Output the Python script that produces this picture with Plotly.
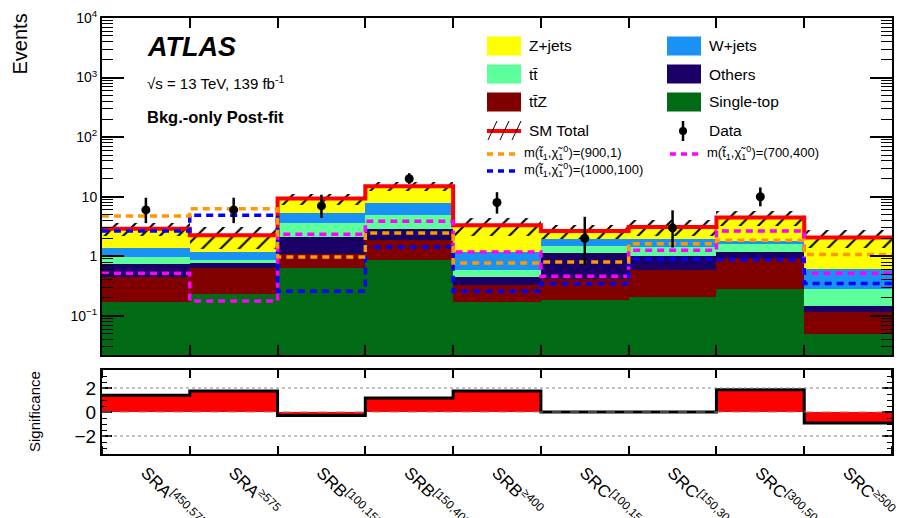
import numpy as np
import plotly.graph_objects as go

# ---------------- data ----------------
regions = ["SRA<sup>[450,575)</sup>", "SRA<sup>≥575</sup>", "SRB<sup>[100,150)</sup>",
           "SRB<sup>[150,400)</sup>", "SRB<sup>≥400</sup>", "SRC<sup>[100,150)</sup>",
           "SRC<sup>[150,300)</sup>", "SRC<sup>[300,500)</sup>", "SRC<sup>≥500</sup>"]

single_top = [0.171, 0.23, 0.646, 0.88, 0.171, 0.187, 0.207, 0.286, 0.048]
ttz        = [0.269, 0.416, 0.43, 1.03, 0.155, 0.235, 0.39, 0.66, 0.068]
others     = [0.313, 0.125, 1.03, 0.93, 0.123, 0.69, 0.40, 0.23, 0.028]
ttbar      = [0.217, 0.086, 1.52, 2.05, 0.13, 0.36, 0.43, 0.49, 0.142]
wjets      = [0.38, 0.32, 1.79, 2.8, 0.6, 0.51, 0.55, 0.12, 0.314]
zjets      = [1.55, 1.07, 3.9, 7.3, 2.14, 0.68, 1.13, 2.68, 1.46]
bkg_unc    = [0.7, 0.9, 2.0, 2.5, 1.1, 0.7, 0.9, 1.3, 0.7]

data        = [6, 6, 7, 20, 8, 2, 3, 10, 0]
data_err_up = [3.6, 3.6, 3.8, 4.8, 3.9, 2.6, 2.9, 4.3, 1.8]
data_err_dn = [2.4, 2.4, 2.6, 3.6, 2.8, 1.3, 1.6, 3.1, 0.0]

sig_900_1    = [4.75, 6.3, 0.97, 2.46, 0.77, 0.8, 1.63, 1.86, 1.07]
sig_1000_100 = [2.66, 4.9, 0.258, 1.43, 0.258, 0.35, 0.90, 0.88, 0.35]
sig_700_400  = [0.52, 0.177, 2.34, 3.87, 1.18, 0.46, 1.26, 2.66, 0.52]

significance = [1.4, 1.74, -0.3, 1.16, 1.74, 0.0, 0.0, 1.85, -0.91]

# ---------------- styling ----------------
FONT = "Liberation Sans, Arial, Helvetica, sans-serif"
C_ZJ, C_WJ, C_TT = "#ffff00", "#1991f5", "#5cff99"
C_OT, C_TTZ, C_ST = "#1a0066", "#800000", "#006b14"
C_OR, C_BL, C_MA = "#ff9900", "#0000ff", "#ff00ff"

nb = len(regions)
centers = np.arange(nb) + 0.5
edges = np.arange(nb + 1)

stack = [("Single-top", single_top, C_ST), ("ttZ", ttz, C_TTZ), ("Others", others, C_OT),
         ("ttbar", ttbar, C_TT), ("W+jets", wjets, C_WJ), ("Z+jets", zjets, C_ZJ)]

fig = go.Figure()
base = np.full(nb, 1e-3)
for name, vals, col in stack:
    v = np.array(vals, float)
    fig.add_trace(go.Bar(x=centers, y=v, base=base.copy(), width=1.0, marker_color=col,
                         marker_line_width=0, name=name, showlegend=False,
                         xaxis="x", yaxis="y"))
    base = base + v

total = np.sum([np.array(s[1]) for s in stack], axis=0)
unc = np.array(bkg_unc)

# hatched uncertainty band
fig.add_trace(go.Bar(x=centers, y=2 * unc, base=total - unc, width=1.0,
                     marker=dict(color="rgba(255,255,255,0)", line_width=0,
                                 pattern=dict(shape="/", fgcolor="black", fgopacity=1,
                                              fillmode="overlay", size=13, solidity=0.16)),
                     showlegend=False, xaxis="x", yaxis="y"))

def step(vals):
    return list(vals) + [vals[-1]]

fig.add_trace(go.Scatter(x=edges, y=step(total), mode="lines", line_shape="hv",
                         line=dict(color="#ff0000", width=4), showlegend=False,
                         xaxis="x", yaxis="y"))

for vals, col in [(sig_700_400, C_MA), (sig_1000_100, C_BL), (sig_900_1, C_OR)]:
    fig.add_trace(go.Scatter(x=edges, y=step(vals), mode="lines", line_shape="hv",
                             line=dict(color=col, width=3.5, dash="7px,5px"),
                             showlegend=False, xaxis="x", yaxis="y"))

d = np.array(data, float)
mask = d > 0
fig.add_trace(go.Scatter(x=centers[mask], y=d[mask], mode="markers",
                         marker=dict(color="black", size=9),
                         error_y=dict(type="data", symmetric=False,
                                      array=np.array(data_err_up)[mask],
                                      arrayminus=np.array(data_err_dn)[mask],
                                      color="black", thickness=2.5, width=0),
                         showlegend=False, xaxis="x", yaxis="y"))

# significance panel
fig.add_trace(go.Bar(x=centers, y=significance, width=1.0, marker_color="#ff0000",
                     marker_line_width=0, showlegend=False, xaxis="x2", yaxis="y2"))
fig.add_trace(go.Scatter(x=edges, y=step(significance), mode="lines", line_shape="hv",
                         line=dict(color="black", width=3), showlegend=False,
                         xaxis="x2", yaxis="y2"))

# ---------------- layout ----------------
W, H = 907, 518
L, R, T, B = 102, 15, 18, 64
PW, PH = W - L - R, H - T - B
def px(x):
    return (x - L) / PW
def py(y):
    return (H - B - y) / PH

top_dom = [py(355), 1.0]
bot_dom = [0.0, py(370)]

log_minor = [k * 10.0 ** e for e in range(-2, 4) for k in range(2, 10)]

axis_common = dict(showline=True, linecolor="black", linewidth=2, mirror="ticks",
                   showgrid=False, zeroline=False, ticks="inside", tickcolor="black",
                   tickwidth=1.5, automargin=False)

fig.update_layout(
    width=W, height=H, margin=dict(l=L, r=R, t=T, b=B),
    paper_bgcolor="white", plot_bgcolor="white", barmode="overlay", bargap=0,
    font=dict(family=FONT, color="black"), showlegend=False,
    xaxis=dict(axis_common, domain=[0, 1], anchor="y", range=[0, nb],
               tickmode="array", tickvals=edges, ticklen=10, showticklabels=False),
    yaxis=dict(axis_common, domain=top_dom, anchor="x", type="log",
               range=[np.log10(0.022), 4],
               tickmode="array", tickvals=[0.1, 1, 10, 100, 1000, 10000],
               ticktext=["10<sup>−1</sup>", "1", "10", "10<sup>2</sup>", "10<sup>3</sup>",
                         "10<sup>4</sup>"],
               ticklen=22, tickfont=dict(size=14),
               minor=dict(tickmode="array", tickvals=log_minor, ticks="inside",
                          ticklen=11, tickcolor="black", tickwidth=1.2)),
    xaxis2=dict(axis_common, domain=[0, 1], anchor="y2", range=[0, nb], matches="x",
                tickmode="array", tickvals=centers, ticktext=regions, ticks="",
                tickangle=45, tickfont=dict(size=17),
                minor=dict(tickmode="array", tickvals=edges, ticks="inside", ticklen=8,
                           tickcolor="black", tickwidth=1.5)),
    yaxis2=dict(axis_common, domain=bot_dom, anchor="x2", range=[-3.5, 3.5],
                tickmode="array", tickvals=[-2, 0, 2], ticklen=10,
                tickfont=dict(size=19),
                minor=dict(tickmode="linear", tick0=0, dtick=0.5, ticks="inside",
                           ticklen=5, tickcolor="black", tickwidth=1.2)),
)

shapes = []
annos = []
# reference lines in significance panel
for yv, dash in [(2, "dot"), (-2, "dot"), (0, "dash")]:
    shapes.append(dict(type="line", xref="x2 domain", yref="y2", x0=0, x1=1, y0=yv, y1=yv,
                       line=dict(color="#888888", width=1.2, dash=dash), layer="above"))

# texts
def text(x, y, s, size, **kw):
    d = dict(xref="paper", yref="paper", x=px(x), y=py(y), text=s, showarrow=False,
             xanchor="left", yanchor="middle", font=dict(size=size, family=FONT, color="black"))
    d.update(kw)
    annos.append(d)

text(145, 47, "<b><i>ATLAS</i></b>", 27)
text(145, 82, "√s = 13 TeV, 139 fb<sup>-1</sup>", 15)
text(145, 117, "<b>Bkg.-only Post-fit</b>", 16.5)
text(20, 12, "Events", 20, xanchor="center", yanchor="top", textangle=-90)
text(34, 412, "Significance", 15, xanchor="center", yanchor="middle", textangle=-90)

# manual legend
def box(x0, y0, x1, y1, col):
    shapes.append(dict(type="rect", xref="paper", yref="paper", x0=px(x0), x1=px(x1),
                       y0=py(y1), y1=py(y0), fillcolor=col, line_width=0))

rows = [(46, "Z+jets", C_ZJ, "W+jets", C_WJ),
        (74, "tt̄", C_TT, "Others", C_OT),
        (102, "tt̄Z", C_TTZ, "Single-top", C_ST)]
for yc, n1, c1, n2, c2 in rows:
    box(487, yc - 9.5, 521, yc + 9.5, c1)
    box(667, yc - 9.5, 701, yc + 9.5, c2)
    text(527, yc, n1, 15.5)
    text(707, yc, n2, 15.5)

# SM total symbol
shapes.append(dict(type="line", xref="paper", yref="paper", x0=px(487), x1=px(521),
                   y0=py(131), y1=py(131), line=dict(color="#ff0000", width=4)))
for xs in [488, 500, 512]:
    shapes.append(dict(type="line", xref="paper", yref="paper", x0=px(xs), x1=px(xs + 9),
                       y0=py(140), y1=py(121), line=dict(color="black", width=1)))
text(527, 131, "SM Total", 15.5)
# data symbol
shapes.append(dict(type="line", xref="paper", yref="paper", x0=px(683), x1=px(683),
                   y0=py(141), y1=py(121), line=dict(color="black", width=2.5)))
shapes.append(dict(type="circle", xref="paper", yref="paper", x0=px(679), x1=px(687),
                   y0=py(135), y1=py(127), fillcolor="black", line_width=0))
text(707, 131, "Data", 15.5)

# signal symbols
def dline(x0, yc, col):
    shapes.append(dict(type="line", xref="paper", yref="paper", x0=px(x0), x1=px(x0 + 30),
                       y0=py(yc), y1=py(yc), line=dict(color=col, width=3.5, dash="6px,5px")))

dline(487, 154, C_OR)
text(522, 153, "m(t̃<sub>1</sub>,χ̃<sub>1</sub><sup>0</sup>)=(900,1)", 13)
dline(670, 154, C_MA)
text(705, 153, "m(t̃<sub>1</sub>,χ̃<sub>1</sub><sup>0</sup>)=(700,400)", 13)
dline(487, 171, C_BL)
text(522, 170, "m(t̃<sub>1</sub>,χ̃<sub>1</sub><sup>0</sup>)=(1000,100)", 13)

fig.update_layout(shapes=shapes, annotations=annos)
fig.write_html("out.html", config={"displayModeBar": False},
               post_script="document.body.style.margin='0';document.body.style.padding='0';")
